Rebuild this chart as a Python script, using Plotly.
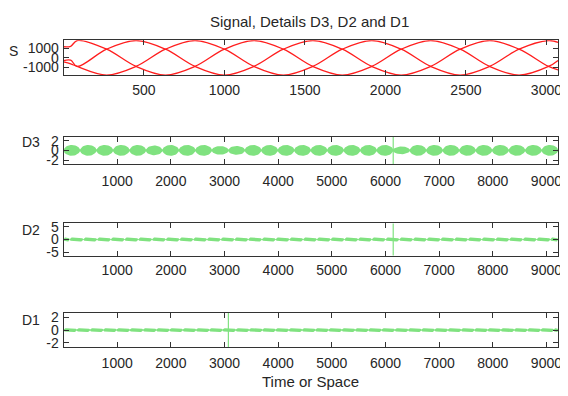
import math
import plotly.graph_objects as go

# ---------------- data ----------------
# Signal S: three interleaved curves, key points (peaks / crossings)
S_x = [1, 45, 85, 268, 451, 634, 817, 1000, 1183, 1366, 1549, 1732, 1915,
       2098, 2281, 2464, 2647, 2830, 3013, 3072]
S_1 = [1200, 1250, 1870, 935, -935, -1870, -935, 935, 1870, 935, -935, -1870,
       -935, 935, 1870, 935, -935, -1870, -935, -280]
S_2 = [-300, -250, -935, 935, 1870, 935, -935, -1870, -935, 935, 1870, 935,
       -935, -1870, -935, 935, 1870, 935, -935, -1300]
S_3 = [-450, -650, -935, -1870, -935, 935, 1870, 935, -935, -1870, -935, 935,
       1870, 935, -935, -1870, -935, 935, 1870, 1680]

# Detail D3: bead boundaries and bead amplitudes
D3_nodes = [0, 307, 614, 922, 1229, 1536, 1843, 2150, 2458, 2765, 3072, 3379,
            3686, 3994, 4301, 4608, 4915, 5222, 5530, 5837, 6144, 6451, 6758,
            7066, 7373, 7680, 7987, 8294, 8602, 8909, 9216]
D3_peaks = [1.1, 1.1, 1.1, 1.1, 1.1, 1.0, 1.1, 1.1, 1.1, 0.9, 0.9, 1.1, 1.1,
            1.1, 1.1, 1.1, 1.1, 1.1, 1.1, 1.1, 0.8, 1.1, 1.1, 1.1, 1.1, 1.1,
            1.1, 1.1, 1.1, 1.1]
D3_pinch = 0.2
D3_spike = 6144

# Detail D2: dash boundaries and dash amplitudes
D2_nodes = [0, 113, 369, 625, 881, 1137, 1393, 1649, 1905, 2161, 2417, 2673,
            2929, 3185, 3441, 3697, 3953, 4209, 4465, 4721, 4977, 5233, 5489,
            5745, 6001, 6257, 6513, 6769, 7025, 7281, 7537, 7793, 8049, 8305,
            8561, 8817, 9073, 9216]
D2_peaks = [0.8] * 37
D2_pinch = 0.12
D2_spike = 6144

# Detail D1: dash boundaries and dash amplitudes
D1_nodes = [0, 247, 494, 741, 988, 1235, 1482, 1729, 1976, 2223, 2470, 2717,
            2964, 3211, 3458, 3705, 3952, 4199, 4446, 4693, 4940, 5187, 5434,
            5681, 5928, 6175, 6422, 6669, 6916, 7163, 7410, 7657, 7904, 8151,
            8398, 8645, 8892, 9139, 9216]
D1_peaks = [0.3] * 38
D1_pinch = 0.08
D1_spike = 3072

S_ticks = [500, 1000, 1500, 2000, 2500, 3000]
D_ticks = [1000, 2000, 3000, 4000, 5000, 6000, 7000, 8000, 9000]
S_yticks = [-1000, 0, 1000]
D3_yticks = [-2, 0, 2]
D2_yticks = [-5, 0, 5]
D1_yticks = [-2, 0, 2]

# ---------------- styling ----------------
OFF = 8                      # page body margin
W, H = 568 - OFF, 396 - OFF
FONT = "Liberation Sans, Arial, sans-serif"
TXT = "#262626"
RED = "rgb(255,30,30)"
GREEN = "rgb(128,226,128)"


def envelope(nodes, peaks, pinch, kind):
    xs, ys = [], []
    n = 14
    for i in range(len(nodes) - 1):
        a, b, p = nodes[i], nodes[i + 1], peaks[i]
        for k in range(n):
            t = k / n
            s = math.sin(math.pi * t)
            if kind == "bead":
                f = s ** 0.6
            else:
                f = min(1.0, 2.6 * s)
            xs.append(a + (b - a) * t)
            ys.append(pinch + (p - pinch) * f)
    xs.append(nodes[-1])
    ys.append(pinch)
    px = xs + xs[::-1]
    py = ys + [-v for v in ys[::-1]]
    return px, py


fig = go.Figure()

for ys in (S_1, S_2, S_3):
    fig.add_trace(go.Scatter(x=S_x, y=ys, mode="lines",
                             line=dict(color=RED, width=1.3, shape="spline", smoothing=1.0),
                             xaxis="x", yaxis="y", hoverinfo="skip"))

panels = [
    ("x2", "y2", D3_nodes, D3_peaks, D3_pinch, "bead", D3_spike),
    ("x3", "y3", D2_nodes, D2_peaks, D2_pinch, "dash", D2_spike),
    ("x4", "y4", D1_nodes, D1_peaks, D1_pinch, "dash", D1_spike),
]
for xa, ya, nodes, peaks, pinch, kind, spike in panels:
    px, py = envelope(nodes, peaks, pinch, kind)
    fig.add_trace(go.Scatter(x=px, y=py, mode="lines", fill="toself",
                             fillcolor=GREEN, line=dict(width=0, color=GREEN),
                             xaxis=xa, yaxis=ya, hoverinfo="skip"))
    fig.add_trace(go.Scatter(x=[spike, spike], y=[-100, 100], mode="lines",
                             line=dict(color=GREEN, width=1.2),
                             xaxis=xa, yaxis=ya, hoverinfo="skip"))


def px2x(p):
    return (p - OFF) / W


def py2y(p):
    return 1 - (p - OFF) / H


def lbl(v):
    return str(v)   # plain hyphen-minus like the reference


axis_common = dict(showline=True, linecolor="#333333", linewidth=1, mirror="ticks",
                   ticks="inside", ticklen=5, tickcolor="#333333", showgrid=False,
                   zeroline=False, tickfont=dict(family=FONT, size=14, color=TXT))

xdom = [px2x(64), px2x(562)]
boxes = [(36, 72), (135, 163), (224, 257), (316, 351)]
yranges = [[-1900, 1900], [-2.8, 2.8], [-6.3, 6.3], [-2.7, 2.7]]
yticks = [S_yticks, D3_yticks, D2_yticks, D1_yticks]
xranges = [[1, 3072], [1, 9216], [1, 9216], [1, 9216]]
xticks = [S_ticks, D_ticks, D_ticks, D_ticks]
xstand = [2, 4, 2, 3]

layout = dict(width=W, height=H, autosize=False, margin=dict(l=0, r=0, t=0, b=0),
              paper_bgcolor="white", plot_bgcolor="white", showlegend=False)
for i in range(4):
    sx = "xaxis" if i == 0 else f"xaxis{i+1}"
    sy = "yaxis" if i == 0 else f"yaxis{i+1}"
    xid = "x" if i == 0 else f"x{i+1}"
    yid = "y" if i == 0 else f"y{i+1}"
    top, bot = boxes[i]
    layout[sx] = dict(axis_common, domain=xdom, range=xranges[i], tickvals=xticks[i],
                      ticktext=[lbl(v) for v in xticks[i]],
                      anchor=yid, ticklabelstandoff=xstand[i])
    layout[sy] = dict(axis_common, domain=[py2y(bot), py2y(top)], range=yranges[i],
                      tickvals=yticks[i], ticktext=[lbl(v) for v in yticks[i]],
                      anchor=xid, ticklabelstandoff=1)

fig.update_layout(**layout)

annots = [
    ("Signal, Details D3, D2 and D1", 312, 17, 15),
    ("S", 14, 47, 14),
    ("D3", 31, 140, 14),
    ("D2", 31, 231, 14),
    ("D1", 31, 323, 14),
    ("Time or Space", 313, 386, 15),
]
for text, x, y, fs in annots:
    fig.add_annotation(text=text, x=px2x(x), y=py2y(y), xref="paper", yref="paper",
                       showarrow=False, xanchor="center", yanchor="middle",
                       font=dict(family=FONT, size=fs, color=TXT))

fig.write_html("out.html")
